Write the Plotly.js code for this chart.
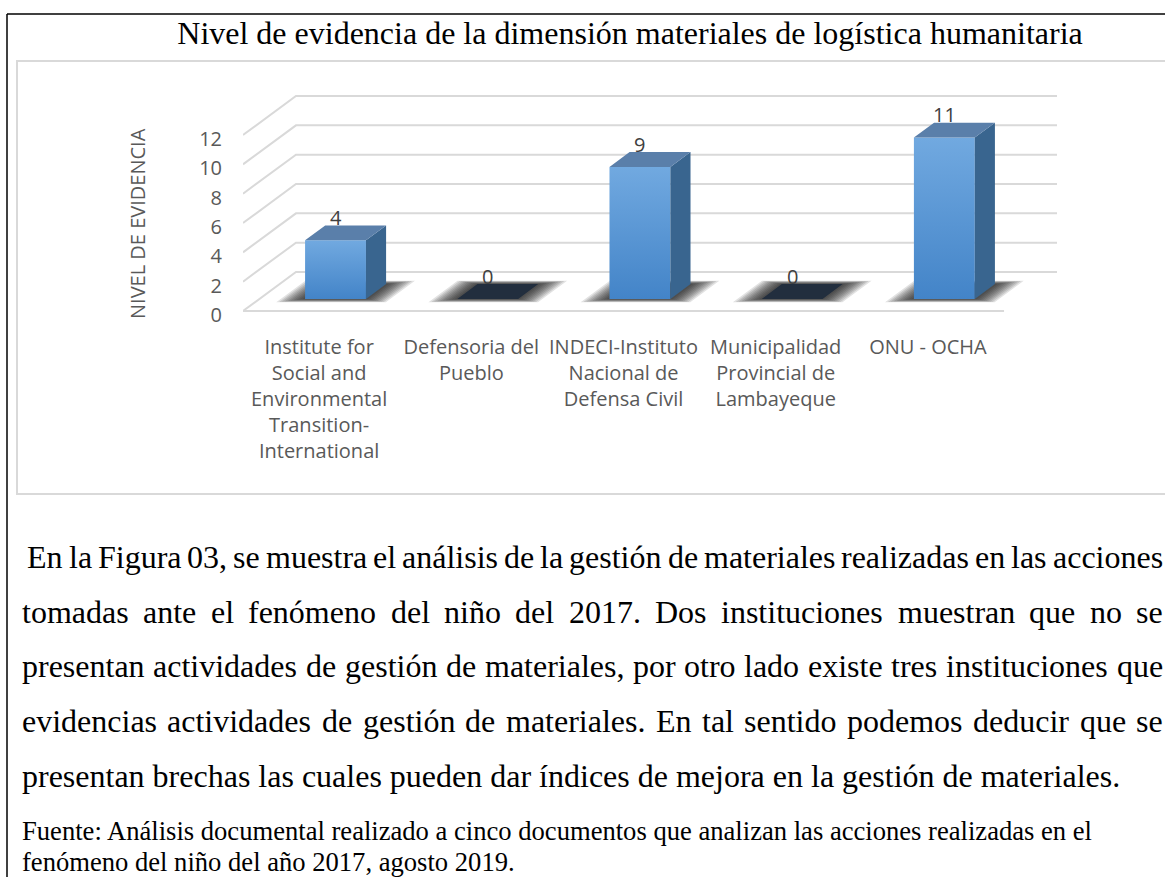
<!DOCTYPE html>
<html>
<head>
<meta charset="utf-8">
<script src="https://cdn.plot.ly/plotly-3.0.1.min.js"></script>
<style>
html,body{margin:0;padding:0;background:#ffffff;}
#chart{width:1165px;height:877px;}
</style>
</head>
<body>
<div id="chart"></div>
<script>
// ---------------- data ----------------
const categories = [
  "Institute for<br>Social and<br>Environmental<br>Transition-<br>International",
  "Defensoria del<br>Pueblo",
  "INDECI-Instituto<br>Nacional de<br>Defensa Civil",
  "Municipalidad<br>Provincial de<br>Lambayeque",
  "ONU - OCHA"
];
const values = [4, 0, 9, 0, 11];
const yTicks = [0, 2, 4, 6, 8, 10, 12];
const chartTitle = "Nivel de evidencia de la dimensión materiales de logística humanitaria";
const yTitle = "NIVEL DE EVIDENCIA";
const paragraphLines = [
  "En la Figura 03, se muestra el análisis de la gestión de materiales realizadas en las acciones",
  "tomadas ante el fenómeno del niño del 2017. Dos instituciones muestran que no se",
  "presentan actividades de gestión de materiales, por otro lado existe tres instituciones que",
  "evidencias actividades de gestión de materiales. En tal sentido podemos deducir que se",
  "presentan brechas las cuales pueden dar índices de mejora en la gestión de materiales."
];
const sourceLines = [
  "Fuente: Análisis documental realizado a cinco documentos que analizan las acciones realizadas en el",
  "fenómeno del niño del año 2017, agosto 2019."
];

// ---------------- geometry / style ----------------
const W = 1165, H = 877;
const plotLeft = 243, plotRight = 1057, plotTop = 91, plotBottom = 333;
const nCat = categories.length;
const DX = 0.348, DY = 2.66;      // full floor depth in axis units (oblique projection)
const F0 = 0.31, F1 = 0.69;       // bar front / back depth fractions
const HALF = 0.2;                 // half bar width
const xRange = [0, nCat + DX];
const yRange = [-1.5, 15];
const axisFont = {family: "Open Sans", size: 20, color: "#595959"};
const serif = "Liberation Serif";
const px = x => x / W;
const py = y => 1 - y / H;

const centers = categories.map((_, i) => i + 0.5);

// grid (back wall + left diagonals + floor front edge)
const gx = [], gy = [];
yTicks.forEach(v => { gx.push(0, DX, nCat + DX, null); gy.push(v, v + DY, v + DY, null); });
gx.push(0, nCat, null); gy.push(0, 0, null);

const traces = [];
traces.push({type: "scatter", mode: "lines", x: gx, y: gy, xaxis: "x", yaxis: "y",
  line: {color: "#d9d9d9", width: 2}, hoverinfo: "skip", showlegend: false});

// soft shadows on the floor (many thin layers, darker toward the footprint)
const shadowLayers = 10;
for (let k = 0; k < shadowLayers; k++) {
  const t = 1 - k / shadowLayers;
  const ex = 0.16 * t, ez = 0.085 * t;
  const sx = [], sy = [];
  centers.forEach(c => {
    const a = F0 - ez, b = F1 + ez;
    sx.push(c - HALF - ex + a * DX, c + HALF + ex + a * DX, c + HALF + ex + b * DX, c - HALF - ex + b * DX, c - HALF - ex + a * DX, null);
    sy.push(a * DY, a * DY, b * DY, b * DY, a * DY, null);
  });
  traces.push({type: "scatter", mode: "lines", x: sx, y: sy, xaxis: "x", yaxis: "y",
    fill: "toself", fillcolor: "rgba(15,15,15,0.12)", line: {width: 0}, hoverinfo: "skip", showlegend: false});
}

// front faces (real bars)
traces.push({type: "bar", x: centers.map(c => c + F0 * DX), y: values, base: F0 * DY,
  width: 2 * HALF, xaxis: "x2", yaxis: "y2",
  marker: {color: "#5899d8", line: {width: 0}}, hoverinfo: "skip", showlegend: false});

// side faces
const sdx = [], sdy = [];
centers.forEach((c, i) => {
  const v = values[i];
  if (v <= 0) return;
  const xr0 = c + HALF + F0 * DX, xr1 = c + HALF + F1 * DX;
  sdx.push(xr0, xr0, xr1, xr1, xr0, null);
  sdy.push(F0 * DY, v + F0 * DY, v + F1 * DY, F1 * DY, F0 * DY, null);
});
traces.push({type: "scatter", mode: "lines", x: sdx, y: sdy, xaxis: "x2", yaxis: "y2",
  fill: "toself", fillcolor: "#39658f", line: {width: 0}, hoverinfo: "skip", showlegend: false});

// top faces
function topFaces(pred) {
  const tx = [], ty = [];
  centers.forEach((c, i) => {
    const v = values[i];
    if (!pred(v)) return;
    tx.push(c - HALF + F0 * DX, c + HALF + F0 * DX, c + HALF + F1 * DX, c - HALF + F1 * DX, c - HALF + F0 * DX, null);
    ty.push(v + F0 * DY, v + F0 * DY, v + F1 * DY, v + F1 * DY, v + F0 * DY, null);
  });
  return {tx, ty};
}
const tp = topFaces(v => v > 0), tz = topFaces(v => v <= 0);
traces.push({type: "scatter", mode: "lines", x: tp.tx, y: tp.ty, xaxis: "x2", yaxis: "y2",
  fill: "toself", fillcolor: "#5a7faa", line: {width: 0}, hoverinfo: "skip", showlegend: false});
traces.push({type: "scatter", mode: "lines", x: tz.tx, y: tz.ty, xaxis: "x2", yaxis: "y2",
  fill: "toself", fillcolor: "#222e3e", line: {width: 0}, hoverinfo: "skip", showlegend: false});

const annotations = [];

// data labels (anchored to the back edge of each bar's top face)
values.forEach((v, i) => {
  annotations.push({xref: "x2", yref: "y2", x: centers[i] + F0 * DX, y: v + F1 * DY,
    text: String(v), showarrow: false, xanchor: "center", yanchor: "middle", yshift: 8,
    font: {family: "Open Sans", size: 20, color: "#404040"}});
});

// ---------------- text layout (paragraph) ----------------
const ctx = document.createElement("canvas").getContext("2d");
function tw(t, size, fam) { ctx.font = size + 'px "' + fam + '"'; return ctx.measureText(t).width; }

const paraSize = 32;
const srcSize = 26.6;
const paraBase = [568, 623, 677, 732, 787];
const srcBase = [840, 871];

function addText(text, x, base, size) {
  annotations.push({xref: "paper", yref: "paper", x: px(x), y: py(base - 0.34 * size),
    xanchor: "left", yanchor: "middle", text: text, showarrow: false,
    borderpad: 0, borderwidth: 0, font: {family: serif, size: size, color: "#000000"}});
}
paragraphLines.forEach((line, li) => {
  const left = li === 0 ? 27 : 22, right = 1163;
  if (li === paragraphLines.length - 1) { addText(line, left, paraBase[li], paraSize); return; }
  const words = line.split(" ");
  const ws = words.map(w => tw(w, paraSize, serif));
  const total = ws.reduce((a, b) => a + b, 0);
  const gap = (right - left - total) / (words.length - 1);
  let x = left;
  words.forEach((w, k) => { addText(w, x, paraBase[li], paraSize); x += ws[k] + gap; });
});
sourceLines.forEach((line, li) => addText(line, 22, srcBase[li], srcSize));

// y-axis title
annotations.push({xref: "paper", yref: "paper", x: px(137), y: py(224), xanchor: "center", yanchor: "middle",
  text: yTitle, textangle: -90, showarrow: false, font: axisFont});

// ---------------- frame shapes ----------------
const shapes = [
  {type: "line", xref: "paper", yref: "paper", x0: px(7), x1: 1.01, y0: py(14), y1: py(14), line: {color: "#000000", width: 1.5}},
  {type: "line", xref: "paper", yref: "paper", x0: px(7), x1: px(7), y0: py(14), y1: -0.01, line: {color: "#000000", width: 1.5}},
  {type: "rect", xref: "paper", yref: "paper", x0: px(17), x1: 1.01, y0: py(494), y1: py(61), line: {color: "#d9d9d9", width: 2}}
];

const layout = {
  width: W, height: H,
  margin: {l: 0, r: 0, t: 0, b: 0},
  paper_bgcolor: "#ffffff", plot_bgcolor: "rgba(0,0,0,0)",
  showlegend: false,
  title: {text: chartTitle, font: {family: serif, size: 32, color: "#000000"},
    x: px(630), xanchor: "center", y: py(33), yanchor: "middle", xref: "paper", yref: "container"},
  xaxis: {domain: [px(plotLeft), px(plotRight)], range: xRange, tickvals: centers, ticktext: categories,
    showgrid: false, zeroline: false, showline: false, ticks: "", tickfont: axisFont, fixedrange: true, automargin: false},
  yaxis: {domain: [py(plotBottom), py(plotTop)], range: yRange, tickvals: yTicks, ticktext: yTicks.map(String),
    showgrid: false, zeroline: false, showline: false, ticks: "outside", ticklen: 16, tickcolor: "rgba(0,0,0,0)",
    ticklabelshift: 4, tickfont: axisFont, fixedrange: true, automargin: false},
  xaxis2: {overlaying: "x", range: xRange, visible: false, fixedrange: true},
  yaxis2: {overlaying: "y", range: yRange, visible: false, fixedrange: true},
  shapes: shapes,
  annotations: annotations
};

Plotly.newPlot("chart", traces, layout, {displayModeBar: false, staticPlot: true}).then(gd => {
  const ns = "http://www.w3.org/2000/svg";
  const svg = gd.querySelector(".main-svg");
  let defs = svg.querySelector("defs");
  if (!defs) { defs = document.createElementNS(ns, "defs"); svg.insertBefore(defs, svg.firstChild); }
  const lg = document.createElementNS(ns, "linearGradient");
  lg.setAttribute("id", "frontGrad");
  lg.setAttribute("x1", "0"); lg.setAttribute("y1", "0"); lg.setAttribute("x2", "0"); lg.setAttribute("y2", "1");
  [["0", "#71a9e0"], ["1", "#4384c8"]].forEach(([o, c]) => {
    const s = document.createElementNS(ns, "stop"); s.setAttribute("offset", o); s.setAttribute("stop-color", c); lg.appendChild(s);
  });
  defs.appendChild(lg);
  gd.querySelectorAll(".barlayer .point path").forEach(p => { p.style.fill = "url(#frontGrad)"; });
});
</script>
</body>
</html>
